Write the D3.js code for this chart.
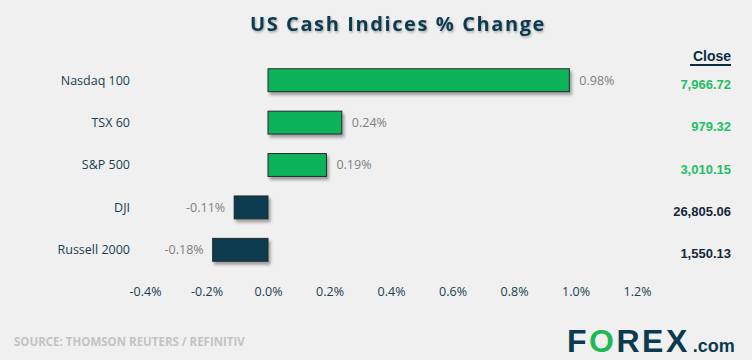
<!DOCTYPE html>
<html><head><meta charset="utf-8">
<script src="https://cdn.jsdelivr.net/npm/d3@7"></script>
<style>
html,body{margin:0;padding:0;background:#f0f0f0;}
svg{display:block;}
</style></head>
<body>
<script>
const categories = ["Nasdaq 100","TSX 60","S&P 500","DJI","Russell 2000"];
const changes = [0.98, 0.24, 0.19, -0.11, -0.18];
const closes = ["7,966.72","979.32","3,010.15","26,805.06","1,550.13"];
const xTicks = [-0.4,-0.2,0.0,0.2,0.4,0.6,0.8,1.0,1.2];

const W = 752, H = 360;
const svg = d3.select("body").append("svg").attr("width", W).attr("height", H);
svg.append("rect").attr("width", W).attr("height", H).attr("fill", "#f0f0f0");

const defs = svg.append("defs");
const f = defs.append("filter").attr("id","sh").attr("x","-10%").attr("y","-30%").attr("width","130%").attr("height","180%");
f.append("feDropShadow").attr("dx",2).attr("dy",3).attr("stdDeviation",1.6).attr("flood-color","#000").attr("flood-opacity",0.35);
const tf = defs.append("filter").attr("id","tsh").attr("x","-5%").attr("y","-30%").attr("width","110%").attr("height","160%");
tf.append("feDropShadow").attr("dx",1).attr("dy",1.5).attr("stdDeviation",1).attr("flood-color","#000").attr("flood-opacity",0.3);

// title
svg.append("text").attr("x", 398).attr("y", 31).attr("text-anchor","middle")
  .attr("font-family","'Open Sans', sans-serif").attr("font-weight",700).attr("font-size",20)
  .attr("letter-spacing","1.6px").attr("fill","#0c3a4e").attr("filter","url(#tsh)")
  .text("US Cash Indices % Change");

const x = d3.scaleLinear().domain([-0.4, 1.2]).range([145, 637]);
const y = d3.scaleBand().domain(categories).range([59, 271]).paddingInner(0.46).paddingOuter(0.23);

// bars
const g = svg.append("g");
categories.forEach((c,i)=>{
  const v = changes[i];
  const x0 = x(Math.min(0,v)), x1 = x(Math.max(0,v));
  g.append("rect").attr("x", x0).attr("y", y(c)).attr("width", x1-x0).attr("height", y.bandwidth())
    .attr("fill", v>=0 ? "#0cb35a" : "#083a4f").attr("stroke","#2a2a2a").attr("stroke-width",1)
    .attr("filter","url(#sh)");
  const lbl = (v>=0? "" : "-") + Math.abs(v).toFixed(2) + "%";
  g.append("text").attr("x", v>=0 ? x1+10 : x0-9).attr("y", y(c)+y.bandwidth()/2)
    .attr("dy","0.35em").attr("text-anchor", v>=0 ? "start":"end")
    .attr("font-family","'Open Sans', sans-serif").attr("font-size",12.5).attr("fill","#7f7f7f")
    .text(lbl);
  g.append("text").attr("x", 130).attr("y", y(c)+y.bandwidth()/2).attr("dy","0.35em")
    .attr("text-anchor","end").attr("font-family","'Open Sans', sans-serif").attr("font-size",12.5)
    .attr("fill","#173f50").text(c);
  g.append("text").attr("x", 731).attr("y", y(c)+y.bandwidth()/2+4).attr("dy","0.35em")
    .attr("text-anchor","end").attr("font-family","'Liberation Sans', Arial, sans-serif")
    .attr("font-weight",700).attr("font-size",13)
    .attr("fill", v>=0 ? "#1fbf66" : "#14283a").text(closes[i]);
});

// Close header
svg.append("text").attr("x", 731).attr("y", 61).attr("text-anchor","end")
  .attr("font-family","'Liberation Sans', Arial, sans-serif").attr("font-weight",700).attr("font-size",14)
  .attr("fill","#0d2c42").text("Close");
svg.append("rect").attr("x", 690).attr("y", 64).attr("width", 41).attr("height", 2).attr("fill","#0d2c42");

// x axis
const ax = svg.append("g").attr("transform","translate(0,292)")
  .call(d3.axisBottom(x).tickValues(xTicks).tickSize(0).tickFormat(d=>d.toFixed(1)+"%"));
ax.select(".domain").remove();
ax.selectAll("text").attr("font-family","'Open Sans', sans-serif").attr("font-size",12.5).attr("fill","#173f50").attr("dy","0.35em").attr("y",0);

// source
svg.append("text").attr("x", 14).attr("y", 346)
  .attr("font-family","'Liberation Sans Narrow', 'Open Sans', sans-serif").attr("font-weight",700)
  .attr("font-size",11.5).attr("fill","#c3c3c3").text("SOURCE: THOMSON REUTERS / REFINITIV");

// logo
const logo = svg.append("text").attr("x", 567).attr("y", 352)
  .attr("font-family","'Liberation Sans', Arial, sans-serif").attr("font-weight",700).attr("font-size",32)
  .attr("letter-spacing","2.5px").attr("fill","#0c3a4e");
logo.append("tspan").text("F");
logo.append("tspan").attr("fill","#1db954").text("O");
logo.append("tspan").text("REX");
logo.append("tspan").attr("font-size",18).attr("letter-spacing","0px").attr("dx",3).text(".com");
</script>
</body></html>
